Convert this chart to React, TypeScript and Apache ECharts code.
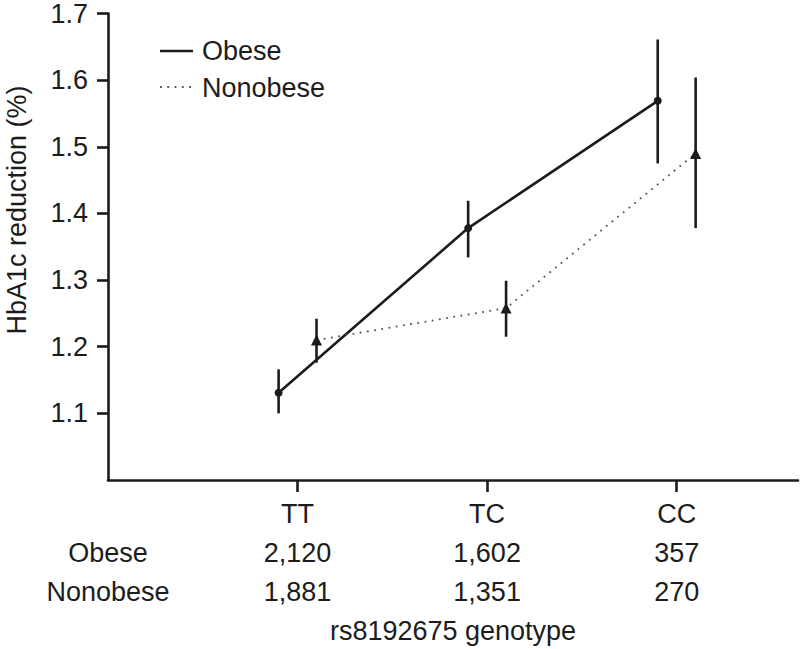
import React, { useEffect, useRef } from "react";
import * as echarts from "echarts";

const genotypes = ["TT", "TC", "CC"];
const genotypePos = [1, 2, 3];
const groupNames = ["Obese", "Nonobese"];

const obeseMean = [1.131, 1.378, 1.569];
const obeseLow = [1.1, 1.334, 1.475];
const obeseHigh = [1.166, 1.419, 1.661];

const nonobeseMean = [1.21, 1.258, 1.49];
const nonobeseLow = [1.176, 1.215, 1.378];
const nonobeseHigh = [1.242, 1.299, 1.604];

const obeseCounts = ["2,120", "1,602", "357"];
const nonobeseCounts = ["1,881", "1,351", "270"];

const yTicks = [1.1, 1.2, 1.3, 1.4, 1.5, 1.6, 1.7];

const FONT = "'Liberation Sans', Arial, Helvetica, sans-serif";
const INK = "#1c1c1c";
const OFFSET = 0.1;

export default function App() {
  const ref = useRef<HTMLDivElement>(null);
  useEffect(() => {
    if (!ref.current) return;
    const chart = echarts.init(ref.current, undefined, { renderer: "svg" });

    const errRender = (params: any, api: any) => {
      const x = api.value(0);
      const p1 = api.coord([x, api.value(1)]);
      const p2 = api.coord([x, api.value(2)]);
      return {
        type: "line",
        shape: { x1: p1[0], y1: p1[1], x2: p2[0], y2: p2[1] },
        style: { stroke: INK, lineWidth: 2.6 },
      };
    };

    const option: any = {
      animation: false,
      backgroundColor: "#ffffff",
      textStyle: { fontFamily: FONT },
      grid: { left: 108, right: 2, top: 11, bottom: 169, containLabel: false },
      xAxis: {
        type: "value",
        min: 0,
        max: 3.64,
        interval: 1,
        name: "rs8192675 genotype",
        nameLocation: "middle",
        nameGap: 137,
        nameTextStyle: { fontSize: 27, color: INK, fontFamily: FONT },
        axisLine: { show: true, onZero: false, lineStyle: { color: INK, width: 2.6 } },
        axisTick: {
          show: true,
          length: 12,
          customValues: genotypePos,
          lineStyle: { color: INK, width: 2.6 },
        },
        splitLine: { show: false },
        axisLabel: {
          customValues: [0, ...genotypePos],
          showMinLabel: true,
          showMaxLabel: true,
          hideOverlap: false,
          margin: 14,
          fontSize: 27,
          lineHeight: 39,
          color: INK,
          fontFamily: FONT,
          align: "center",
          verticalAlign: "top",
          formatter: (v: number) => {
            if (Math.abs(v) < 1e-9) return ["", groupNames[0], groupNames[1]].join("\n");
            const i = genotypePos.findIndex((p) => Math.abs(p - v) < 1e-9);
            if (i < 0) return "";
            return [genotypes[i], obeseCounts[i], nonobeseCounts[i]].join("\n");
          },
        },
      },
      yAxis: {
        type: "value",
        min: 1.0,
        max: 1.7,
        interval: 0.1,
        axisLine: { show: true, lineStyle: { color: INK, width: 2.6 } },
        axisTick: {
          show: true,
          length: 11,
          customValues: yTicks,
          lineStyle: { color: INK, width: 2.6 },
        },
        splitLine: { show: false },
        axisLabel: {
          customValues: yTicks,
          margin: 20,
          fontSize: 27,
          color: INK,
          fontFamily: FONT,
          formatter: (v: number) => v.toFixed(1),
        },
      },
      graphic: [
        {
          type: "text",
          x: 17,
          y: 210,
          rotation: Math.PI / 2,
          style: {
            text: "HbA1c reduction (%)",
            fontSize: 27,
            fontFamily: FONT,
            fill: INK,
            align: "center",
            verticalAlign: "middle",
          },
        },
        {
          type: "line",
          shape: { x1: 160, y1: 51, x2: 193, y2: 51 },
          style: { stroke: INK, lineWidth: 2.6 },
        },
        {
          type: "line",
          shape: { x1: 160, y1: 87, x2: 192, y2: 87 },
          style: { stroke: "#555", lineWidth: 1.8, lineDash: [1.8, 5.5] },
        },
        {
          type: "text",
          x: 202,
          y: 51,
          style: {
            text: groupNames[0],
            fontSize: 27,
            fontFamily: FONT,
            fill: INK,
            align: "left",
            verticalAlign: "middle",
          },
        },
        {
          type: "text",
          x: 202,
          y: 88,
          style: {
            text: groupNames[1],
            fontSize: 27,
            fontFamily: FONT,
            fill: INK,
            align: "left",
            verticalAlign: "middle",
          },
        },
      ],
      series: [
        {
          name: "Obese CI",
          type: "custom",
          renderItem: errRender,
          encode: { x: 0, y: [1, 2] },
          z: 2,
          data: genotypePos.map((p, i) => [p - OFFSET, obeseLow[i], obeseHigh[i]]),
        },
        {
          name: "Nonobese CI",
          type: "custom",
          renderItem: errRender,
          encode: { x: 0, y: [1, 2] },
          z: 2,
          data: genotypePos.map((p, i) => [p + OFFSET, nonobeseLow[i], nonobeseHigh[i]]),
        },
        {
          name: groupNames[0],
          type: "line",
          z: 3,
          symbol: "circle",
          symbolSize: 8,
          itemStyle: { color: INK },
          lineStyle: { color: INK, width: 2.6 },
          data: genotypePos.map((p, i) => [p - OFFSET, obeseMean[i]]),
        },
        {
          name: groupNames[1],
          type: "line",
          z: 3,
          symbol: "triangle",
          symbolSize: 11,
          itemStyle: { color: INK },
          lineStyle: { color: "#555", width: 1.8, type: [1.8, 5.5] },
          data: genotypePos.map((p, i) => [p + OFFSET, nonobeseMean[i]]),
        },
      ],
    };

    chart.setOption(option);
    return () => chart.dispose();
  }, []);

  return (
    <div
      ref={ref}
      style={{ position: "fixed", left: 0, top: 0, width: 800, height: 649, background: "#fff" }}
    />
  );
}
